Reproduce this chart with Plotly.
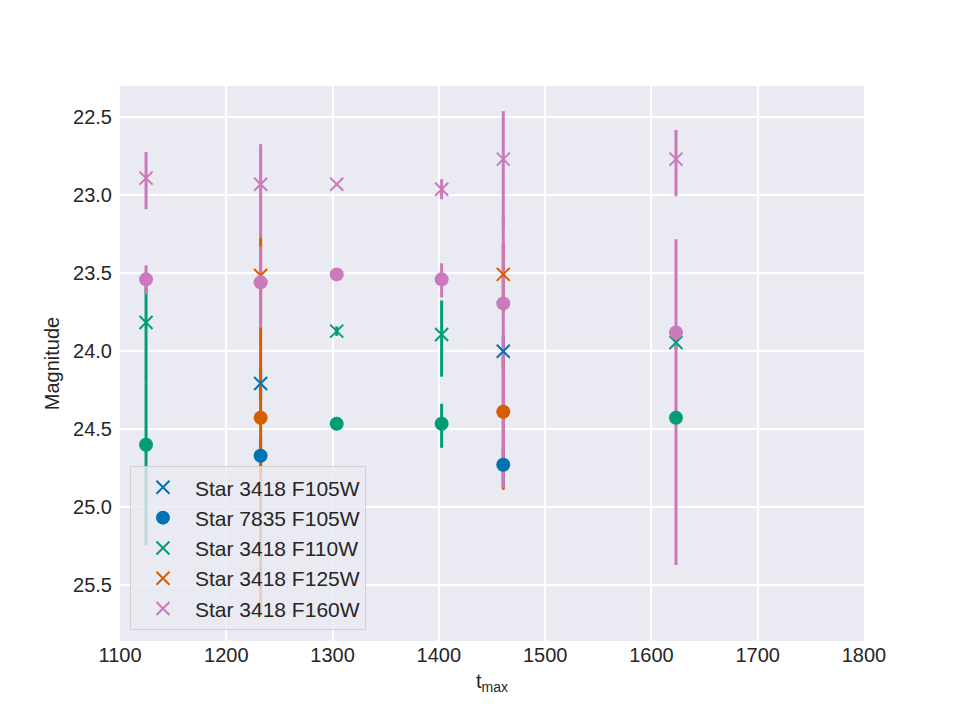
import plotly.graph_objects as go

# ---- data (t_max, magnitude, error toward brighter / fainter) ----
t_a = [1124.5, 1232.3, 1303.9, 1402.6, 1460.6, 1623.1]   # all epochs
t_b = [1232.3, 1460.6]                                    # F105W / F125W epochs
t_c = [1124.5, 1303.9, 1402.6, 1623.1]                    # F110W epochs

s3418_f105w = [24.207, 24.000]
s3418_f105w_lo = [0.10, 0.10]
s3418_f105w_hi = [0.11, 0.11]

s7835_f105w = [24.670, 24.728]
s7835_f105w_lo = [0.12, 0.12]
s7835_f105w_hi = [0.14, 0.14]

s3418_f110w = [23.816, 23.871, 23.893, 23.944]
s3418_f110w_lo = [0.283, 0.03, 0.219, 0.04]
s3418_f110w_hi = [0.385, 0.03, 0.270, 0.04]

s7835_f110w = [24.600, 24.465, 24.465, 24.426]
s7835_f110w_lo = [0.399, 0.01, 0.128, 0.03]
s7835_f110w_hi = [0.642, 0.01, 0.154, 0.03]

s3418_f125w = [23.514, 23.507]
s3418_f125w_lo = [0.245, 0.20]
s3418_f125w_hi = [0.314, 0.25]

s7835_f125w = [24.426, 24.388]
s7835_f125w_lo = [0.585, 0.348]
s7835_f125w_hi = [1.273, 0.500]

s3418_f160w = [22.890, 22.929, 22.929, 22.961, 22.768, 22.768]
s3418_f160w_lo = [0.167, 0.257, 0.01, 0.064, 0.308, 0.187]
s3418_f160w_hi = [0.199, 0.340, 0.01, 0.064, 0.437, 0.238]

s7835_f160w = [23.539, 23.558, 23.507, 23.539, 23.693, 23.880]
s7835_f160w_lo = [0.090, 0.231, 0.01, 0.103, 0.552, 0.598]
s7835_f160w_hi = [0.096, 0.290, 0.01, 0.116, 1.183, 1.491]

x_ticks = [1100, 1200, 1300, 1400, 1500, 1600, 1700, 1800]
y_ticks = [22.5, 23.0, 23.5, 24.0, 24.5, 25.0, 25.5]

BLUE, GREEN, ORANGE, PINK = "#0173b2", "#029e73", "#d55e00", "#cc78bc"

series = [
    # name, x, y, lo, hi, color, symbol, legend
    ("Star 3418 F105W", t_b, s3418_f105w, s3418_f105w_lo, s3418_f105w_hi, BLUE, "x", True),
    ("Star 7835 F105W", t_b, s7835_f105w, s7835_f105w_lo, s7835_f105w_hi, BLUE, "o", True),
    ("Star 3418 F110W", t_c, s3418_f110w, s3418_f110w_lo, s3418_f110w_hi, GREEN, "x", True),
    ("Star 7835 F110W", t_c, s7835_f110w, s7835_f110w_lo, s7835_f110w_hi, GREEN, "o", False),
    ("Star 3418 F125W", t_b, s3418_f125w, s3418_f125w_lo, s3418_f125w_hi, ORANGE, "x", True),
    ("Star 7835 F125W", t_b, s7835_f125w, s7835_f125w_lo, s7835_f125w_hi, ORANGE, "o", False),
    ("Star 3418 F160W", t_a, s3418_f160w, s3418_f160w_lo, s3418_f160w_hi, PINK, "x", True),
    ("Star 7835 F160W", t_a, s7835_f160w, s7835_f160w_lo, s7835_f160w_hi, PINK, "o", False),
]

fig = go.Figure()

# error bars first (below all markers)
for name, x, y, lo, hi, col, sym, leg in series:
    fig.add_trace(go.Scatter(
        x=x, y=y, mode="markers",
        marker=dict(size=2, opacity=0, color=col),
        error_y=dict(type="data", symmetric=False, array=hi, arrayminus=lo,
                     color=col, thickness=3, width=0),
        showlegend=False, hoverinfo="skip",
    ))

# markers on top
for name, x, y, lo, hi, col, sym, leg in series:
    if sym == "x":
        marker = dict(symbol="x-thin", size=13, color=col,
                      line=dict(color=col, width=2))
    else:
        marker = dict(symbol="circle", size=14, color=col, line=dict(width=0))
    fig.add_trace(go.Scatter(
        x=x, y=y, mode="markers", name=name, marker=marker,
        showlegend=leg,
    ))

FONT = "Liberation Sans, Arial, DejaVu Sans, sans-serif"

fig.update_layout(
    width=960, height=720,
    margin=dict(l=120, r=96, t=86.4, b=79.2),
    paper_bgcolor="white",
    plot_bgcolor="#eaeaf2",
    font=dict(family=FONT, size=20, color="#262626"),
    showlegend=True,
    legend=dict(
        x=0.0134, y=0.0195, xanchor="left", yanchor="bottom",
        bgcolor="rgba(234,234,242,0.8)",
        bordercolor="rgba(204,204,204,0.9)", borderwidth=1,
        font=dict(family=FONT, size=21, color="#262626"),
        itemwidth=54, tracegroupgap=0,
    ),
    xaxis=dict(
        range=[1100, 1800], tickvals=x_ticks,
        ticktext=[str(v) for v in x_ticks],
        showgrid=True, gridcolor="white", gridwidth=2,
        zeroline=False, showline=False,
        ticks="", 
        tickfont=dict(size=20, color="#262626"),
        title=dict(text="t<sub>max</sub>", font=dict(size=20, color="#262626"),
                   standoff=8),
    ),
    yaxis=dict(
        range=[25.858, 22.299], tickvals=y_ticks,
        ticktext=[f"{v:.1f}" for v in y_ticks],
        showgrid=True, gridcolor="white", gridwidth=2,
        zeroline=False, showline=False,
        ticks="outside", ticklen=3, tickcolor="rgba(0,0,0,0)",
        tickfont=dict(size=20, color="#262626"),
        title=dict(text="Magnitude", font=dict(size=20, color="#262626"),
                   standoff=8),
    ),
)

fig.write_html("out.html")
